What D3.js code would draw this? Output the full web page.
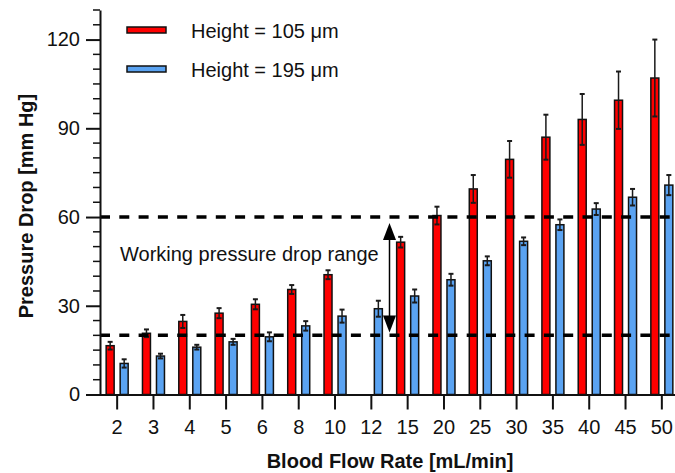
<!DOCTYPE html>
<html>
<head>
<meta charset="utf-8">
<script src="https://cdn.jsdelivr.net/npm/d3@7"></script>
<style>
  html, body { margin: 0; padding: 0; background: #fff; }
  svg { display: block; font-family: "Liberation Sans", Arial, sans-serif; }
</style>
</head>
<body>
<svg id="chart" width="675" height="473"></svg>
<script>
const categories = ["2","3","4","5","6","8","10","12","15","20","25","30","35","40","45","50"];
const seriesNames = ["Height = 105 μm", "Height = 195 μm"];
const seriesColors = ["#ff0000", "#5aa3f2"];
const red105 = [16.5, 20.7, 24.7, 27.5, 30.5, 35.5, 40.5, null, 51.5, 60.5, 69.5, 79.5, 87, 93, 99.5, 107];
const red105Err = [1.3, 1.3, 2.2, 1.7, 1.7, 1.5, 1.5, null, 1.8, 3, 4.7, 6.2, 7.6, 8.6, 9.7, 13];
const blue195 = [10.5, 13, 16, 17.8, 19.5, 23.2, 26.5, 29, 33.3, 38.8, 45.2, 51.8, 57.4, 62.7, 66.7, 70.8];
const blue195Err = [1.4, 0.8, 0.8, 1, 1.5, 1.6, 2.2, 2.7, 2.2, 2, 1.5, 1.3, 1.8, 2, 2.8, 3.4];
const yMajorTicks = [0, 30, 60, 90, 120];
const refLines = [20, 60];
const rangeArrow = [58, 21];
const annotation = "Working pressure drop range";
const xTitle = "Blood Flow Rate [mL/min]";
const yTitle = "Pressure Drop [mm Hg]";

const svg = d3.select("#chart");
const textColor = "#111";

const x = d3.scaleBand().domain(categories).range([99, 680]).paddingInner(0).paddingOuter(0);
const y = d3.scaleLinear().domain([0, 130]).range([394.5, 10]);
const inner = d3.scaleBand().domain([0, 1]).range([-11, 11]).paddingInner(0.43);

const series = [
  { values: red105, errs: red105Err },
  { values: blue195, errs: blue195Err }
];

// bars
series.forEach((s, si) => {
  const data = categories.map((c, i) => ({ c, v: s.values[i], e: s.errs[i] })).filter(d => d.v != null);
  const g = svg.append("g");
  g.selectAll("rect").data(data).join("rect")
    .attr("x", d => x(d.c) + x.bandwidth() / 2 + inner(si))
    .attr("y", d => y(d.v))
    .attr("width", inner.bandwidth())
    .attr("height", d => y(0) - y(d.v))
    .attr("fill", seriesColors[si])
    .attr("stroke", "#111")
    .attr("stroke-width", 1.5);
  const cx = d => x(d.c) + x.bandwidth() / 2 + inner(si) + inner.bandwidth() / 2;
  g.selectAll("line.err").data(data).join("line").attr("class", "err")
    .attr("x1", cx).attr("x2", cx)
    .attr("y1", d => y(d.v - d.e)).attr("y2", d => y(d.v + d.e))
    .attr("stroke", "#1a1a1a").attr("stroke-width", 1.5);
  ["top", "bot"].forEach(k => {
    g.selectAll("line.cap" + k).data(data).join("line").attr("class", "cap" + k)
      .attr("x1", d => cx(d) - 2.5).attr("x2", d => cx(d) + 2.5)
      .attr("y1", d => y(k === "top" ? d.v + d.e : d.v - d.e))
      .attr("y2", d => y(k === "top" ? d.v + d.e : d.v - d.e))
      .attr("stroke", "#1a1a1a").attr("stroke-width", 2);
  });
});

// reference dashed lines
svg.append("g").selectAll("line").data(refLines).join("line")
  .attr("x1", 100).attr("x2", 672)
  .attr("y1", d => y(d)).attr("y2", d => y(d))
  .attr("stroke", "#000").attr("stroke-width", 3.5)
  .attr("stroke-dasharray", "10,9.3");

// y axis
const yAxisMajor = d3.axisLeft(y).tickValues(yMajorTicks).tickSize(14).tickPadding(6).tickSizeOuter(0);
const gy = svg.append("g").attr("transform", "translate(100,0)").call(yAxisMajor);
gy.select(".domain").attr("stroke", "#111").attr("stroke-width", 2);
gy.selectAll(".tick line").attr("stroke", "#111").attr("stroke-width", 2);
gy.selectAll(".tick text").attr("font-size", 20).attr("fill", textColor)
  .attr("font-family", "Liberation Sans, Arial, sans-serif");
const minor = d3.range(0, 131, 5).filter(v => !yMajorTicks.includes(v));
svg.append("g").selectAll("line").data(minor).join("line")
  .attr("x1", 93).attr("x2", 100)
  .attr("y1", d => y(d)).attr("y2", d => y(d))
  .attr("stroke", "#111").attr("stroke-width", 1.5);

// x axis
const xAxis = d3.axisBottom(x).tickSize(15).tickPadding(10).tickSizeOuter(0);
const gx = svg.append("g").attr("transform", `translate(0,${y(0)})`).call(xAxis);
gx.select(".domain").attr("stroke", "#111").attr("stroke-width", 2);
gx.selectAll(".tick line").attr("stroke", "#111").attr("stroke-width", 2);
gx.selectAll(".tick text").attr("font-size", 20).attr("fill", textColor)
  .attr("font-family", "Liberation Sans, Arial, sans-serif");

// double arrow
const ax = x("15");
const ga = svg.append("g");
ga.append("line").attr("x1", ax).attr("x2", ax)
  .attr("y1", y(rangeArrow[0]) + 10).attr("y2", y(rangeArrow[1]) - 10)
  .attr("stroke", "#000").attr("stroke-width", 1.5);
ga.append("path")
  .attr("d", `M${ax},${y(rangeArrow[0])} L${ax - 6.5},${y(rangeArrow[0]) + 17} L${ax + 6.5},${y(rangeArrow[0]) + 17} Z`)
  .attr("fill", "#000");
ga.append("path")
  .attr("d", `M${ax},${y(rangeArrow[1])} L${ax - 6.5},${y(rangeArrow[1]) - 17} L${ax + 6.5},${y(rangeArrow[1]) - 17} Z`)
  .attr("fill", "#000");

// annotation
svg.append("text").attr("x", 120).attr("y", 260.5)
  .attr("font-size", 20).attr("fill", textColor).text(annotation);

// legend
const lg = svg.append("g");
seriesNames.forEach((n, i) => {
  const cy = 30 + i * 39;
  lg.append("rect").attr("x", 127).attr("y", cy - 3).attr("width", 39).attr("height", 6)
    .attr("fill", seriesColors[i]).attr("stroke", "#111").attr("stroke-width", 1.5);
  lg.append("text").attr("x", 191).attr("y", cy + 7.5)
    .attr("font-size", 20).attr("fill", textColor).text(n);
});

// axis titles
svg.append("text").attr("x", 390).attr("y", 468).attr("text-anchor", "middle")
  .attr("font-size", 20).attr("font-weight", "bold").attr("fill", textColor).text(xTitle);
svg.append("text").attr("transform", "translate(33,206) rotate(-90)").attr("text-anchor", "middle")
  .attr("font-size", 20).attr("font-weight", "bold").attr("fill", textColor).text(yTitle);
</script>
</body>
</html>
